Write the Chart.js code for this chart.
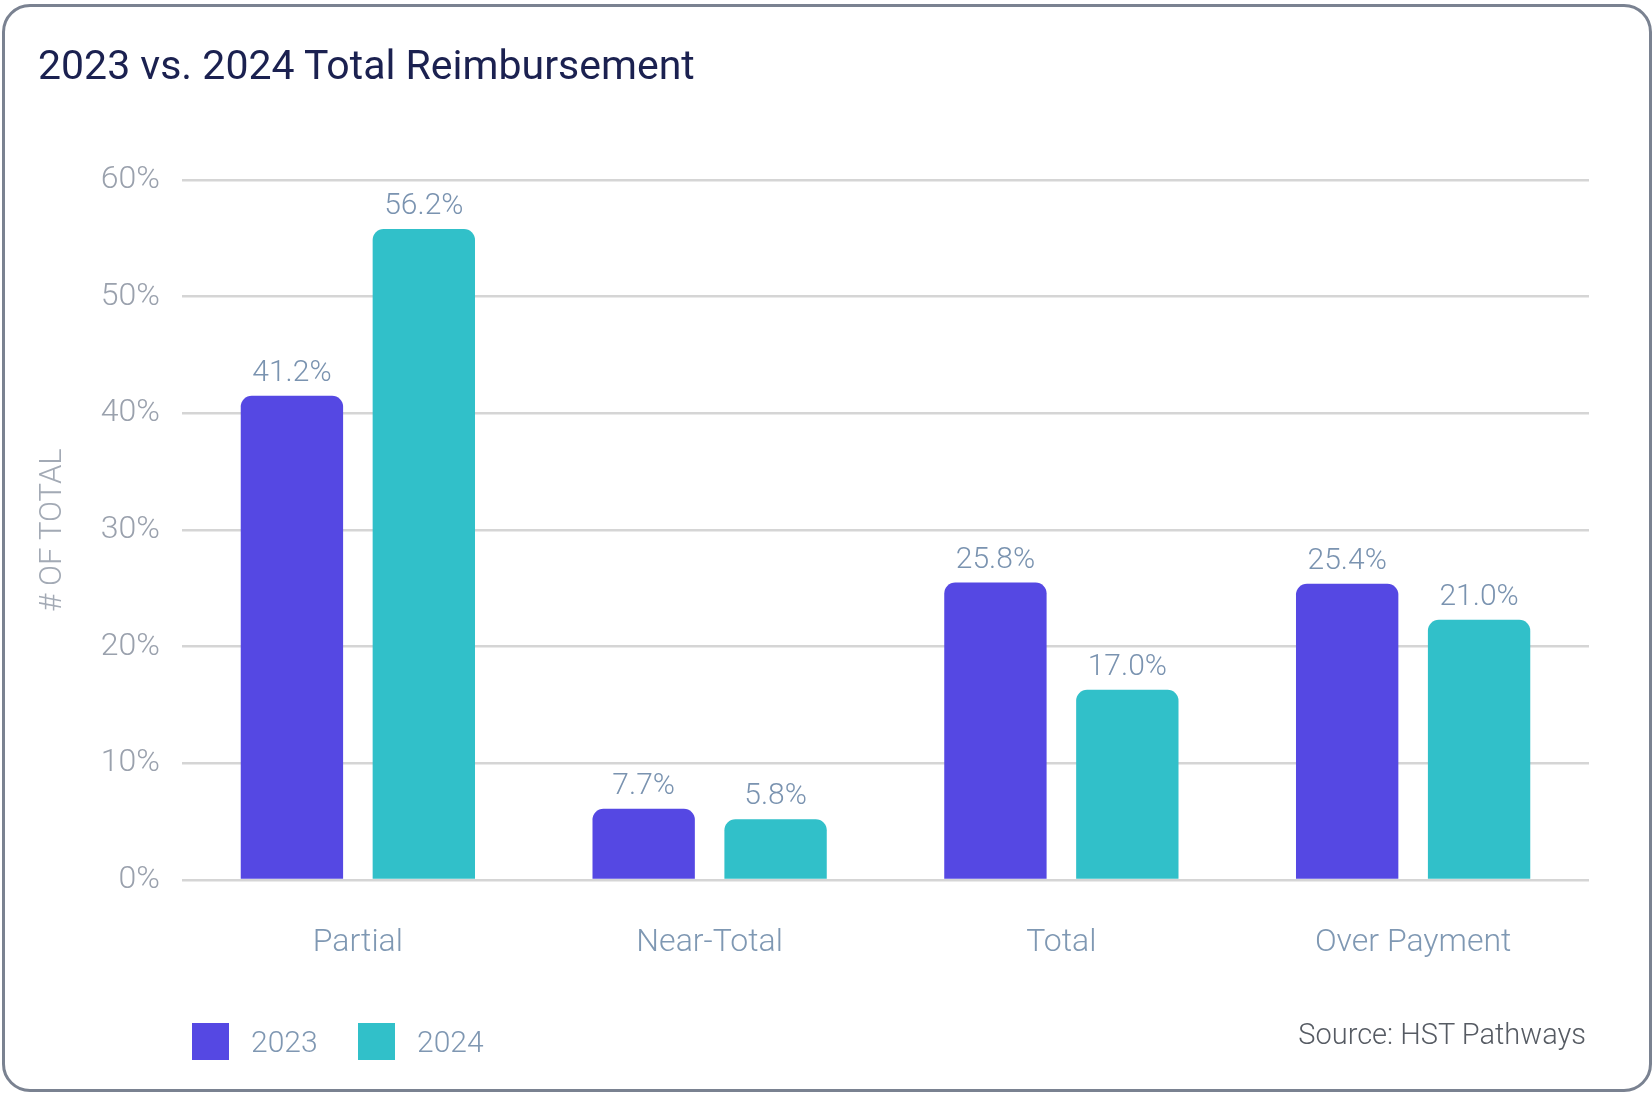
<!DOCTYPE html>
<html>
<head>
<meta charset="utf-8">
<script src="https://cdn.jsdelivr.net/npm/chart.js@4.4.1/dist/chart.umd.min.js"></script>
<style>
  html, body { margin: 0; padding: 0; background: #fff; }
  body { width: 1652px; height: 1093px; position: relative; overflow: hidden; font-family: Roboto, sans-serif; }
  .frame { position: absolute; left: 2px; top: 4px; width: 1644px; height: 1082px; border: 3px solid #7a8291; border-radius: 28px; }
  .title { position: absolute; left: 38px; top: 45px; font-size: 41px; font-weight: 400; color: #1b2150; line-height: 1; }
  .wrap { position: absolute; left: 0; top: 0; width: 1652px; height: 1093px; }
  .legend { position: absolute; top: 1023px; height: 37px; display: flex; align-items: center; }
  .swatch { width: 37px; height: 37px; margin-right: 22px; }
  .legend span { font-size: 30px; font-weight: 300; color: #7f97b2; }
  .source { position: absolute; right: 66px; top: 1017px; font-size: 29px; font-weight: 300; color: #565b63; }
</style>
</head>
<body>
<div class="frame"></div>
<div class="wrap"><canvas id="myChart"></canvas></div>
<div class="title">2023 vs. 2024 Total Reimbursement</div>
<div class="legend" style="left:192px"><div class="swatch" style="background:#5548e3"></div><span>2023</span></div>
<div class="legend" style="left:358px"><div class="swatch" style="background:#31c0c9"></div><span>2024</span></div>
<div class="source">Source: HST Pathways</div>
<script>
const categories = ["Partial", "Near-Total", "Total", "Over Payment"]
const values2023 = [41.5, 6.1, 25.5, 25.4]
const values2024 = [55.8, 5.2, 16.3, 22.3]
const labels2023 = ["41.2%", "7.7%", "25.8%", "25.4%"]
const labels2024 = ["56.2%", "5.8%", "17.0%", "21.0%"]
const yTicks = [0, 10, 20, 30, 40, 50, 60]

const barLabels = {
  id: "barLabels",
  afterDatasetsDraw(chart) {
    const { ctx } = chart
    const texts = [labels2023, labels2024]
    ctx.save()
    ctx.font = "300 30px Roboto"
    ctx.fillStyle = "#7a93b0"
    ctx.textAlign = "center"
    ctx.textBaseline = "alphabetic"
    chart.data.datasets.forEach((ds, i) => {
      chart.getDatasetMeta(i).data.forEach((bar, j) => {
        ctx.fillText(texts[i][j], bar.x, bar.y - 15)
      })
    })
    ctx.restore()
  },
}

const ctx = document.getElementById("myChart")
const myChart = new Chart(ctx, {
  type: "bar",
  data: {
    labels: categories,
    datasets: [
      { label: "2023", data: values2023, backgroundColor: "#5548e3" },
      { label: "2024", data: values2024, backgroundColor: "#31c0c9" },
    ],
  },
  plugins: [barLabels],
  options: {
    responsive: true,
    maintainAspectRatio: false,
    devicePixelRatio: 1,
    animation: false,
    borderRadius: 11,
    categoryPercentage: 0.75,
    barPercentage: 0.776,
    layout: { padding: { top: 180, right: 63, left: 0, bottom: 0 } },
    scales: {
      x: {
        afterFit(scale) { scale.height = 213 },
        grid: { display: false, drawTicks: false },
        border: { display: false },
        ticks: {
          padding: 44,
          color: "#7f98b3",
          font: { family: "Roboto", size: 32, weight: "300" },
        },
      },
      y: {
        min: 0,
        max: 60,
        afterFit(scale) { scale.width = 182 },
        afterBuildTicks(scale) { scale.ticks = yTicks.map(v => ({ value: v })) },
        grid: { color: "#d5d5d5", lineWidth: 2.5, drawTicks: false },
        border: { display: false },
        ticks: {
          padding: 22,
          color: "#9aa1ad",
          font: { family: "Roboto", size: 32, weight: "300" },
          callback: v => v + "%",
        },
        title: {
          display: true,
          text: "# OF TOTAL",
          color: "#a3aab5",
          font: { family: "Roboto", size: 31, weight: "300" },
          padding: { top: 35, bottom: 0 },
        },
      },
    },
    plugins: {
      legend: { display: false },
      tooltip: { enabled: false },
    },
  },
})
</script>
</body>
</html>
